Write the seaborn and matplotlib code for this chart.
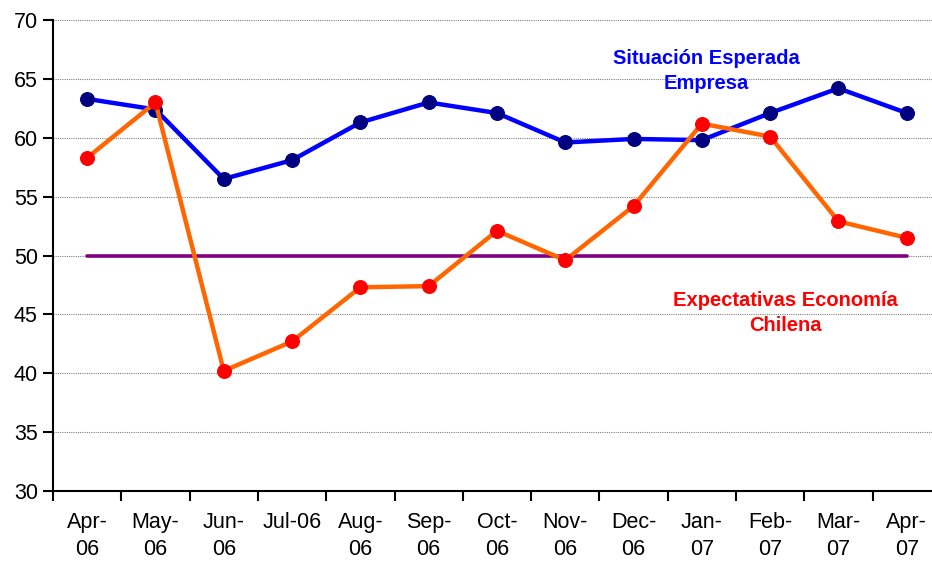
import numpy as np
import pandas as pd
import seaborn as sns
import matplotlib.pyplot as plt
from matplotlib.ticker import FixedLocator

# data
months = ['Apr-\n06', 'May-\n06', 'Jun-\n06', 'Jul-06', 'Aug-\n06', 'Sep-\n06', 'Oct-\n06',
          'Nov-\n06', 'Dec-\n06', 'Jan-\n07', 'Feb-\n07', 'Mar-\n07', 'Apr-\n07']
empresa = [63.3, 62.4, 56.5, 58.1, 61.3, 63.0, 62.1, 59.6, 59.9, 59.8, 62.1, 64.2, 62.1]
economia = [58.3, 63.0, 40.2, 42.7, 47.3, 47.4, 52.1, 49.6, 54.2, 61.2, 60.1, 52.9, 51.5]
neutral = [50] * len(months)

sns.set_style('white')
plt.rcParams['font.family'] = ['Liberation Sans', 'DejaVu Sans']

df = pd.DataFrame({'pos': np.arange(len(months)), 'empresa': empresa,
                   'economia': economia, 'neutral': neutral})

fig = plt.figure(figsize=(9.32, 5.61), dpi=100)
ax = fig.add_axes([0.0569, 0.1248, 0.9431, 0.8395])

sns.lineplot(data=df, x='pos', y='neutral', ax=ax, color='#800080', linewidth=2.6)
sns.lineplot(data=df, x='pos', y='empresa', ax=ax, color='#0000FF', linewidth=3.2,
             marker='o', markersize=10, markerfacecolor='#000080', markeredgecolor='#000080')
sns.lineplot(data=df, x='pos', y='economia', ax=ax, color='#FF6600', linewidth=3.2,
             marker='o', markersize=10, markerfacecolor='#FF0000', markeredgecolor='#FF0000')

ax.set_ylim(30, 70)
ax.set_xlim(-0.5, 12.37)
ax.set_yticks(range(30, 71, 5))
ax.yaxis.grid(True, color='#808080', linestyle=(0, (1, 1)), linewidth=0.8)
ax.set_axisbelow(True)

ax.set_xticks(df['pos'])
ax.set_xticklabels(months, fontsize=15.5, linespacing=1.4)
ax.xaxis.set_minor_locator(FixedLocator(np.arange(-0.5, 12.6, 1)))
ax.tick_params(axis='x', which='major', bottom=True, length=0, pad=15, labelcolor='black')
ax.tick_params(axis='x', which='minor', bottom=True, length=7, width=1.5, color='black',
               direction='out')
ax.tick_params(axis='y', left=True, length=7, width=1.5, color='black', direction='out',
               labelsize=15.5, pad=4, labelcolor='black')
ax.set_xlabel('')
ax.set_ylabel('')

for s in ['top', 'right']:
    ax.spines[s].set_visible(False)
for s in ['left', 'bottom']:
    ax.spines[s].set_color('black')
    ax.spines[s].set_linewidth(1.5)

ax.text(9.07, 65.7, 'Situación Esperada\nEmpresa', color='#0000FF', fontsize=14.5,
        fontweight='bold', ha='center', va='center', linespacing=1.4)
ax.text(10.22, 45.1, 'Expectativas Economía\nChilena', color='#FF0000', fontsize=14.5,
        fontweight='bold', ha='center', va='center', linespacing=1.4)

fig.savefig('out.png', dpi=100)
